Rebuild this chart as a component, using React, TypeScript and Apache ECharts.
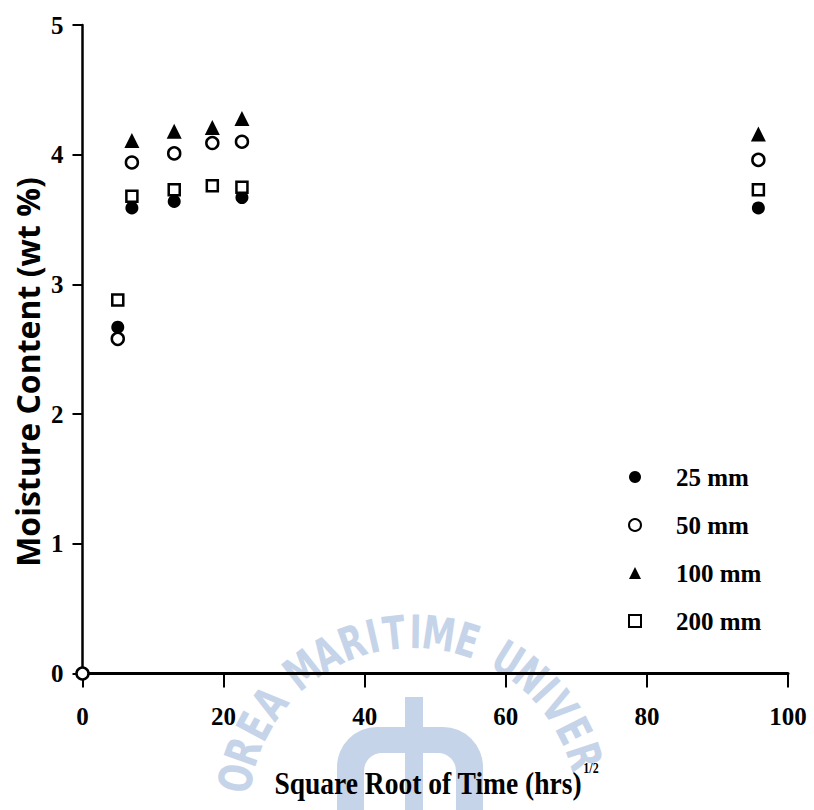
import React, { useEffect, useRef } from "react";
import * as echarts from "echarts";

// Moisture content (wt %) vs square root of time, four specimen thicknesses
const seriesNames = ["25 mm", "50 mm", "100 mm", "200 mm"];
const xTickValues = [0, 20, 40, 60, 80, 100];
const yTickValues = [0, 1, 2, 3, 4, 5];

const data25: [number, number][] = [
  [5, 2.67],
  [7, 3.59],
  [13, 3.64],
  [22.6, 3.67],
  [95.8, 3.59],
];
const data50: [number, number][] = [
  [0, 0],
  [5, 2.58],
  [7, 3.94],
  [13, 4.01],
  [18.4, 4.09],
  [22.6, 4.1],
  [95.8, 3.96],
];
const data100: [number, number][] = [
  [7, 4.11],
  [13, 4.18],
  [18.4, 4.21],
  [22.6, 4.28],
  [95.8, 4.16],
];
const data200: [number, number][] = [
  [5, 2.88],
  [7, 3.68],
  [13, 3.73],
  [18.4, 3.76],
  [22.6, 3.75],
  [95.8, 3.73],
];

const yTitle = "Moisture Content (wt %)";
const xTitle = "Square Root of Time (hrs)";
const xTitleSup = "1/2";
const sealText = "KOREA MARITIME UNIVERSITY";

const SERIF = "'Liberation Serif', 'DejaVu Serif', serif";
const SANS = "'Open Sans', 'Noto Sans', sans-serif";
const SEAL = "#c6d4e9";

// letters of the seal set along an arc (only those that sit inside the page)
function sealLetters() {
  const cx = 413;
  const cy = 812;
  const r = 180;
  const widthOf = (ch: string) => (ch === "I" ? 4.5 : ch === " " ? 5 : ch === "M" ? 9 : 8);
  const chars = sealText.split("");
  const k = 1.1;
  let theta = 178;
  const out: any[] = [];
  chars.forEach((ch, i) => {
    if (i > 0) theta -= ((widthOf(chars[i - 1]) + widthOf(ch)) / 2) * k;
    if (ch === " ") return;
    const rad = (theta * Math.PI) / 180;
    const x = cx + r * Math.cos(rad);
    const y = cy - r * Math.sin(rad);
    if (y > 782) return;
    out.push({
      type: "text",
      z: -10,
      silent: true,
      x,
      y,
      scaleX: 0.72,
      rotation: ((theta - 90) * Math.PI) / 180,
      style: {
        text: ch,
        fill: SEAL,
        font: `bold 46px 'DejaVu Sans', sans-serif`,
        align: "center",
        verticalAlign: "middle",
      },
    });
  });
  return out;
}

export default function App() {
  const ref = useRef<HTMLDivElement>(null);

  useEffect(() => {
    if (!ref.current) return;
    const chart = echarts.init(ref.current, undefined, { renderer: "svg" });

    const tickLabel = {
      fontFamily: SERIF,
      fontWeight: "bold" as const,
      fontSize: 25,
      color: "#000",
    };

    const option: any = {
      animation: false,
      backgroundColor: "#fff",
      grid: { left: 82.5, right: 26, top: 25, bottom: 136.5, containLabel: false },
      xAxis: {
        type: "value",
        min: xTickValues[0],
        max: xTickValues[xTickValues.length - 1],
        interval: xTickValues[1] - xTickValues[0],
        splitLine: { show: false },
        axisLine: { show: true, lineStyle: { color: "#000", width: 3 } },
        axisTick: { show: true, length: 14, lineStyle: { color: "#000", width: 2 } },
        axisLabel: { ...tickLabel, margin: 30 },
      },
      yAxis: {
        type: "value",
        min: yTickValues[0],
        max: yTickValues[yTickValues.length - 1],
        interval: yTickValues[1] - yTickValues[0],
        splitLine: { show: false },
        axisLine: { show: true, lineStyle: { color: "#000", width: 2.5 } },
        axisTick: { show: true, length: 10, lineStyle: { color: "#000", width: 2 } },
        axisLabel: { ...tickLabel, margin: 19 },
      },
      legend: {
        orient: "vertical",
        left: 623,
        top: 459,
        itemWidth: 12,
        itemHeight: 12,
        itemGap: 22,
        data: seriesNames,
        textStyle: {
          fontFamily: SERIF,
          fontWeight: "bold",
          fontSize: 25,
          lineHeight: 26,
          color: "#000",
          padding: [0, 0, 0, 30],
        },
      },
      series: [
        {
          name: seriesNames[0],
          type: "scatter",
          symbol: "circle",
          symbolSize: 13,
          data: data25,
          itemStyle: { color: "#000", opacity: 1 },
        },
        {
          name: seriesNames[1],
          type: "scatter",
          symbol: "circle",
          symbolSize: 12,
          data: data50,
          itemStyle: { color: "#fff", borderColor: "#000", borderWidth: 2.5, opacity: 1 },
        },
        {
          name: seriesNames[2],
          type: "scatter",
          symbol: "triangle",
          symbolSize: 15,
          data: data100,
          itemStyle: { color: "#000", opacity: 1 },
        },
        {
          name: seriesNames[3],
          type: "scatter",
          symbol: "rect",
          symbolSize: 11,
          data: data200,
          itemStyle: { color: "#fff", borderColor: "#000", borderWidth: 2.5, opacity: 1 },
        },
      ],
      graphic: [
        // seal emblem behind the plot
        ...sealLetters(),
        {
          type: "rect",
          z: -10,
          silent: true,
          shape: { x: 337, y: 727, width: 146, height: 100, r: [40, 40, 0, 0] },
          style: { fill: SEAL },
        },
        {
          type: "rect",
          z: -9,
          silent: true,
          shape: { x: 364, y: 753, width: 92, height: 80, r: [18, 18, 0, 0] },
          style: { fill: "#fff" },
        },
        {
          type: "rect",
          z: -8,
          silent: true,
          shape: { x: 405, y: 697, width: 18, height: 130 },
          style: { fill: SEAL },
        },
        // axis titles
        {
          type: "text",
          z: 10,
          x: 27,
          y: 372,
          rotation: Math.PI / 2,
          style: {
            text: yTitle,
            font: `bold 32px ${SANS}`,
            fill: "#000",
            align: "center",
            verticalAlign: "middle",
          },
        },
        {
          type: "text",
          z: 10,
          x: 428,
          y: 783,
          scaleX: 0.86,
          style: {
            text: xTitle,
            font: `bold 32px ${SERIF}`,
            fill: "#000",
            align: "center",
            verticalAlign: "middle",
          },
        },
        {
          type: "text",
          z: 10,
          x: 591,
          y: 768,
          scaleX: 0.8,
          style: {
            text: xTitleSup,
            font: `bold 15px ${SERIF}`,
            fill: "#000",
            align: "center",
            verticalAlign: "middle",
          },
        },
      ],
    };

    chart.setOption(option);
    return () => chart.dispose();
  }, []);

  return (
    <div
      ref={ref}
      style={{ position: "fixed", left: 0, top: 0, width: 814, height: 810, background: "#fff" }}
    />
  );
}
